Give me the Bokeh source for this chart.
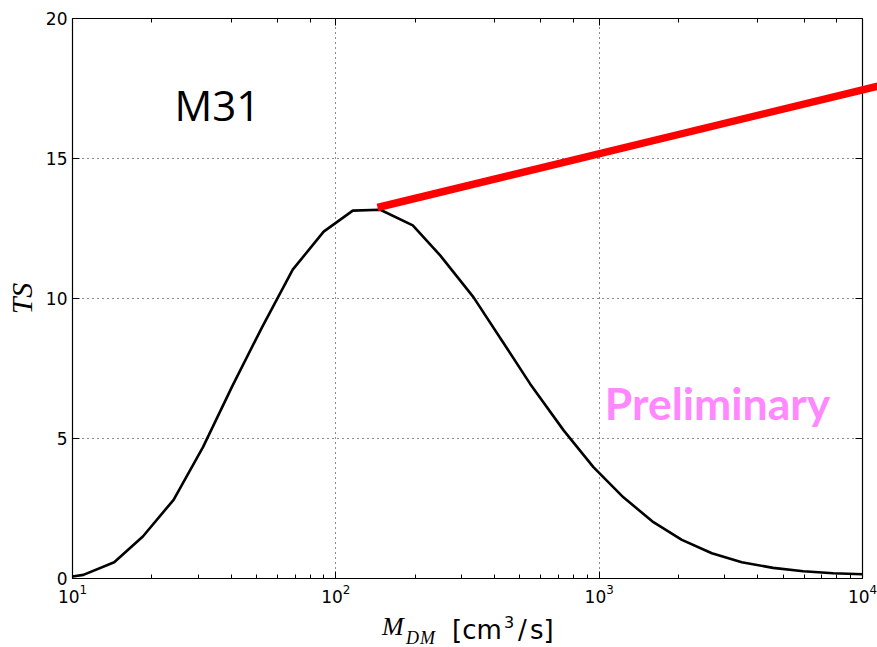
import math
from bokeh.plotting import figure
from bokeh.layouts import column
from bokeh.models import (Range1d, FixedTicker, LogTicker, LogAxis, Arrow, Div, Span)
from bokeh.core.properties import value
from bokeh.embed import file_html
from bokeh.resources import INLINE

# ---- data ----
mdm = [10, 11.0, 14.4, 18.5, 24.2, 31.3, 40.4, 52.5, 68.6, 89.9, 116, 147.5, 196,
       249, 333, 427, 547, 733, 951, 1236, 1607, 2061, 2679, 3480, 4580, 5960, 7740, 10000]
ts = [0.07, 0.13, 0.58, 1.50, 2.81, 4.69, 6.86, 8.98, 11.03, 12.39, 13.14, 13.17, 12.61,
      11.54, 10.05, 8.50, 6.95, 5.29, 3.98, 2.90, 2.01, 1.38, 0.90, 0.58, 0.38, 0.26, 0.19, 0.15]
limit_x = [144, 11500]
limit_y = [13.25, 17.59]
y_ticks = [0, 5, 10, 15, 20]
X_LO, X_HI = 10, 1e4

TICK_FONT = "DejaVu Sans"
W, H = 877, 647
LEFT, TOP, BOTTOM = 72, 18, 52
AXES_W, FH = 790, 560
OVER = W - LEFT - AXES_W                 # strip right of the axes box (the red line runs into it)
decade = AXES_W / math.log10(X_HI / X_LO)
x_view_hi = 10 ** (math.log10(X_HI) + OVER / decade)

p = figure(x_axis_type="log", x_range=Range1d(X_LO, x_view_hi), y_range=Range1d(0, 20),
           frame_width=AXES_W + OVER, frame_height=FH,
           min_border_left=LEFT, min_border_right=0, min_border_top=TOP,
           min_border_bottom=BOTTOM,
           output_backend="svg", toolbar_location=None)
p.background_fill_color = "white"
p.border_fill_color = "white"
p.outline_line_color = None

# axes
p.yaxis.ticker = FixedTicker(ticks=y_ticks)
for ax in (p.xaxis[0], p.yaxis[0]):
    ax.axis_line_color = "black"
    ax.axis_line_width = 1.2
    ax.major_tick_in = 7
    ax.major_tick_out = 0
    ax.minor_tick_in = 4
    ax.minor_tick_out = 0
    ax.major_label_text_font = TICK_FONT
    ax.major_label_text_font_size = "17px"
    ax.major_label_text_color = "black"
    ax.major_label_standoff = 5
p.xaxis.bounds = (X_LO, X_HI)
p.yaxis.minor_tick_line_color = None
p.yaxis.axis_label = "TS"
p.yaxis.axis_label_text_font = "Liberation Serif"
p.yaxis.axis_label_text_font_style = "italic"
p.yaxis.axis_label_text_font_size = "30px"
p.yaxis.axis_label_text_color = "black"
p.yaxis.axis_label_standoff = 5

# top axis (ticks only)
top = LogAxis(ticker=LogTicker(), bounds=(X_LO, X_HI))
top.major_tick_in = 7
top.major_tick_out = 0
top.minor_tick_in = 4
top.minor_tick_out = 0
top.major_label_text_font_size = "1px"
top.major_label_text_alpha = 0
top.major_label_standoff = 0
top.axis_line_color = "black"
top.axis_line_width = 1.2
p.add_layout(top, "above")

# right spine and its inward ticks
p.add_layout(Span(location=X_HI, dimension="height", line_color="black", line_width=1.2))
p.ray(x=[X_HI] * len(y_ticks), y=y_ticks, length=7, length_units="screen",
      angle=math.pi, line_color="black", line_width=1)

# grid (dotted)
p.xgrid.ticker = p.xaxis[0].ticker
p.xgrid.grid_line_color = "black"
p.xgrid.grid_line_dash = "1 4"
p.xgrid.grid_line_width = 1
p.xgrid.grid_line_alpha = 0.9
p.ygrid.visible = False
p.segment(x0=[X_LO] * len(y_ticks), y0=y_ticks, x1=[X_HI] * len(y_ticks), y1=y_ticks,
          line_color="black", line_dash="1 4", line_width=1, line_alpha=0.9)

# curve
p.line(mdm, ts, line_color="black", line_width=2.6)

# red limit line (runs past the axes box, like the original)
p.add_layout(Arrow(end=None, x_start=limit_x[0], y_start=limit_y[0],
                   x_end=limit_x[1], y_end=limit_y[1],
                   line_color="red", line_width=7.5, line_cap="butt"))

# texts inside the plot
p.text(x=[24.4], y=[16.93], text=["M31"], text_font=value("Open Sans"),
       text_font_size="42px", text_color="black", text_baseline="alphabetic")
p.text(x=[1050], y=[6.28], text=["Preliminary"], text_font=value("Lato"),
       text_font_style="bold", text_font_size="44.5px", text_color="#ff88ff",
       text_baseline="alphabetic")

# ---- x axis label (HTML, with sub/superscripts) ----
PH = TOP + FH + BOTTOM
LABEL_TOP = 614
shift = PH - LABEL_TOP

def span(left, top_, txt, font, size, italic=False, extra=""):
    st = "font-style:italic;" if italic else ""
    return (f'<span style="position:absolute;left:{left}px;top:{top_:.1f}px;'
            f'font-family:\'{font}\';font-size:{size}px;line-height:1;{st}{extra}'
            f'white-space:nowrap;color:black;">{txt}</span>')

html = ('<div style="position:relative;width:877px;height:33px;margin:0;padding:0;">'
        + span(377, 0.3, "M", "Liberation Serif", 26, True)
        + span(401, 14.9, "DM", "Liberation Serif", 18, True, "letter-spacing:1px;")
        + span(447, 3.0, "[cm", "DejaVu Sans", 26)
        + span(499, 0.5, "3", "DejaVu Sans", 16)
        + span(513, 3.0, "/", "DejaVu Sans", 26)
        + span(525, 3.0, "s]", "DejaVu Sans", 26)
        + '</div>')
xlabel = Div(text=html, width=W, height=H - LABEL_TOP,
             styles={"margin-top": f"-{shift}px", "padding": "0px"})

layout = column(p, xlabel, spacing=0)
open("out.html", "w").write(file_html(layout, INLINE))
